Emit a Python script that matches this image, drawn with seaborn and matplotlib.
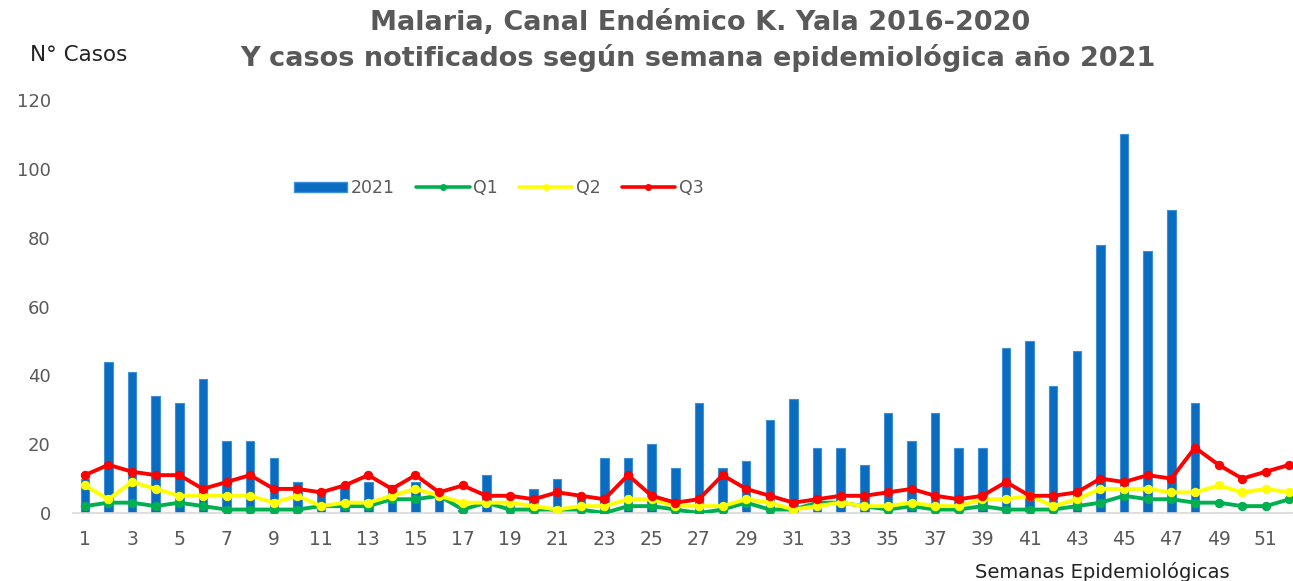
import numpy as np
import pandas as pd
import matplotlib
matplotlib.use("Agg")
import matplotlib.pyplot as plt
from matplotlib.patches import Patch
from matplotlib.lines import Line2D
import seaborn as sns

# ---- data ----
semanas = list(range(1, 53))
casos_2021 = [10, 44, 41, 34, 32, 39, 21, 21, 16, 9,
              6, 8, 9, 8, 9, 7, 1, 11, 3, 7,
              10, 5, 16, 16, 20, 13, 32, 13, 15, 27,
              33, 19, 19, 14, 29, 21, 29, 19, 19, 48,
              50, 37, 47, 78, 110, 76, 88, 32, 0, 0,
              0, 0]
q1 = [2, 3, 3, 2, 3, 2, 1, 1, 1, 1,
      2, 2, 2, 4, 4, 5, 1, 3, 1, 1,
      1, 1, 0, 2, 2, 1, 0, 1, 3, 1,
      1, 3, 3, 2, 1, 2, 1, 1, 2, 1,
      1, 1, 2, 3, 5, 4, 4, 3, 3, 2,
      2, 4]
q2 = [8, 4, 9, 7, 5, 5, 5, 5, 3, 5,
      2, 3, 3, 5, 7, 5, 3, 3, 3, 2,
      1, 2, 2, 4, 4, 2, 2, 2, 4, 3,
      1, 2, 3, 2, 2, 3, 2, 2, 4, 4,
      5, 2, 4, 7, 7, 7, 6, 6, 8, 6,
      7, 6]
q3 = [11, 14, 12, 11, 11, 7, 9, 11, 7, 7,
      6, 8, 11, 7, 11, 6, 8, 5, 5, 4,
      6, 5, 4, 11, 5, 3, 4, 11, 7, 5,
      3, 4, 5, 5, 6, 7, 5, 4, 5, 9,
      5, 5, 6, 10, 9, 11, 10, 19, 14, 10,
      12, 14]
xtick_labels = [str(w) for w in range(1, 53, 2)]
yticks = [0, 20, 40, 60, 80, 100, 120]

title1 = "Malaria, Canal Endémico K. Yala 2016-2020"
title2 = "Y casos notificados según semana epidemiológica año 2021"

# ---- style ----
sns.set_theme(style="white")
plt.rcParams["font.family"] = ["DejaVu Sans"]

W, H = 1293, 581
fig = plt.figure(figsize=(W / 100, H / 100), dpi=100)
ax_left = 73 / W
ax_bottom = (H - 513) / H
ax_top = (H - 100) / H
ax = fig.add_axes([ax_left, ax_bottom, 1 - ax_left, ax_top - ax_bottom])

df_bar = pd.DataFrame({"semana": semanas, "casos": casos_2021})
sns.barplot(data=df_bar, x="semana", y="casos", native_scale=True,
            color="#0a6cc0", saturation=1, width=0.36, ax=ax,
            edgecolor="#3d8fd6", linewidth=0.8, zorder=2)

series = [("Q1", q1, "#00b050"), ("Q2", q2, "#ffff00"), ("Q3", q3, "#ff0000")]
for name, vals, col in series:
    d = pd.DataFrame({"semana": semanas, "v": vals})
    sns.lineplot(data=d, x="semana", y="v", ax=ax, color=col, linewidth=2.8,
                 marker="o", markersize=6, markeredgecolor=col,
                 markerfacecolor=col, zorder=3)

ax.set_xlim(0.5, 0.5 + (W - 73) / 23.62)
ax.set_ylim(0, 120)
ax.set_xticks(list(range(1, 53, 2)))
ax.set_xticklabels(xtick_labels)
ax.set_yticks(yticks)
ax.tick_params(axis="x", length=0, pad=12, labelsize=13.5, labelcolor="#595959")
ax.tick_params(axis="y", length=0, pad=16, labelsize=13, labelcolor="#595959")
ax.set_xlabel("")
ax.set_ylabel("")
for s in ["top", "right", "left"]:
    ax.spines[s].set_visible(False)
ax.spines["bottom"].set_color("#d9d9d9")
ax.spines["bottom"].set_linewidth(1.2)
ax.grid(False)

handles = [Patch(facecolor="#0a6cc0", edgecolor="#3d8fd6", label="2021")]
for name, vals, col in series:
    handles.append(Line2D([0], [0], color=col, linewidth=2.6, marker="o",
                          markersize=4, label=name))
leg = fig.legend(handles=handles, loc="center left",
                 bbox_to_anchor=(278 / W, 1 - 188 / H), ncol=4, frameon=False,
                 handlelength=3.1, handleheight=0.5, handletextpad=0.2,
                 columnspacing=1.2, fontsize=12.5)
for t in leg.get_texts():
    t.set_color("#595959")

fig.text(700 / W, 1 - 23 / H, title1, ha="center", va="center",
         fontsize=19.5, fontweight="bold", color="#595959")
fig.text(698 / W, 1 - 58 / H, title2, ha="center", va="center",
         fontsize=19.5, fontweight="bold", color="#595959")
fig.text(30 / W, 1 - 55 / H, "N° Casos", ha="left", va="center",
         fontsize=15.5, color="#222222")
fig.text(975 / W, 1 - 562 / H, "Semanas Epidemiológicas", ha="left",
         va="top", fontsize=14, color="#222222")

fig.savefig("out.png", dpi=100)
